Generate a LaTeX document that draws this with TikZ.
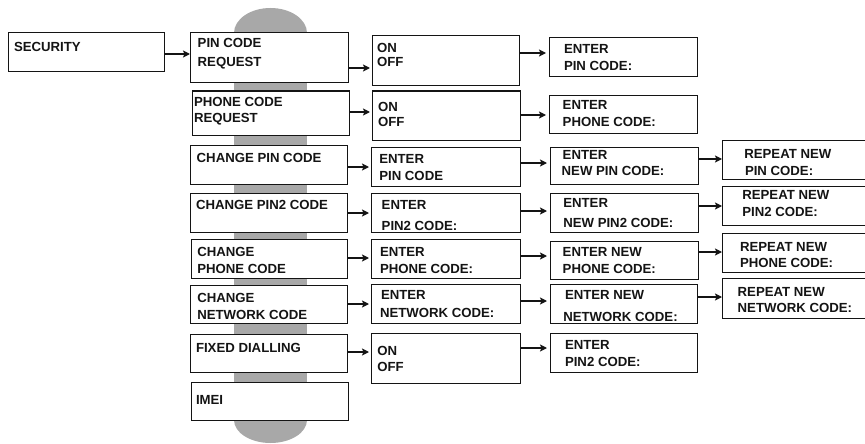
\documentclass[tikz,border=0pt]{standalone}
\usepackage{fontspec}
\setmainfont{Liberation Sans}
\usetikzlibrary{arrows.meta}
\definecolor{pillar}{RGB}{168,168,168}
\definecolor{ink}{RGB}{20,20,20}
\tikzset{
  box/.style={draw=ink,fill=white,line width=1pt,inner sep=0pt,outer sep=0pt,rectangle},
  txt/.style={inner sep=0pt,outer sep=0pt,text=ink,font=\fontsize{13.2}{15}\selectfont\bfseries},
  arr/.style={draw=ink,line width=2pt,-{Stealth[length=7pt,width=7pt,inset=1.5pt]}},
  gapa/.style={shorten >=2pt},
  gapb/.style={shorten >=3pt}
}
\newcommand\bx[5]{\node[box,anchor=north west,minimum width={(#4-#2)*1pt},minimum height={(#5-#3)*1pt}] (#1) at (#2,#3) {};}
\newcommand\tl[4]{\node[txt,anchor=base west] (#1) at (#2,{#3+9.4}) {#4};}
\newcommand\ar[4][]{\draw[arr,#1] (#2.east |- 0,#4) -- (#3.west |- 0,#4);}
\begin{document}
\begin{tikzpicture}[x=1pt,y=-1pt]
\useasboundingbox (0,0) rectangle (865,444);
% grey pillar
\fill[pillar] (270.5,33) ellipse [x radius=36.5,y radius=25];
\fill[pillar] (270.5,420) ellipse [x radius=36.5,y radius=23];
\fill[pillar] (234,33) rectangle (307,420);
% boxes
\bx{sec}{8}{33}{164}{72}
\bx{ca}{190}{33}{348}{83}
\bx{cb}{192}{91}{349}{135}
\bx{cc}{190}{145}{347}{184}
\bx{cd}{190}{193}{347}{232}
\bx{ce}{191}{239}{347}{278}
\bx{cf}{190}{285}{347}{323}
\bx{cg}{190}{334}{347}{372}
\bx{ch}{191}{382}{348}{420}
\bx{da}{372}{36}{519}{86}
\bx{db}{372}{91}{520}{140}
\bx{dc}{371}{147}{520}{186}
\bx{dd}{371}{193}{520}{232}
\bx{de}{371}{239}{520}{278}
\bx{df}{371}{284}{520}{323}
\bx{dg}{371}{333}{520}{383}
\bx{ea}{549}{38}{697}{77}
\bx{eb}{549}{95}{697}{133}
\bx{ec}{550}{147}{698}{184}
\bx{ed}{550}{193}{698}{232}
\bx{ee}{550}{241}{698}{279}
\bx{ef}{550}{284}{697}{323}
\bx{eg}{550}{333}{697}{372}
\bx{fc}{722}{140}{870}{179}
\bx{fd}{722}{186}{870}{225}
\bx{fe}{722}{233}{870}{272}
\bx{ff}{722}{278}{870}{318}
% texts
\tl{tsec}{14}{41.7}{SECURITY}
\tl{tca1}{197.7}{37.7}{PIN CODE}
\tl{tca2}{197.7}{57.3}{REQUEST}
\tl{tcb1}{194}{96.7}{PHONE CODE}
\tl{tcb2}{194}{113.3}{REQUEST}
\tl{tcc1}{196.7}{152.7}{CHANGE PIN CODE}
\tl{tcd1}{196}{200}{CHANGE PIN2 CODE}
\tl{tce1}{197.3}{246.7}{CHANGE}
\tl{tce2}{197.3}{264}{PHONE CODE}
\tl{tcf1}{197.3}{292.7}{CHANGE}
\tl{tcf2}{197.3}{310}{NETWORK CODE}
\tl{tcg1}{196}{343.3}{FIXED DIALLING}
\tl{tch1}{196}{395}{IMEI}
\tl{tda1}{377}{42.7}{ON}
\tl{tda2}{377}{57.3}{OFF}
\tl{tdb1}{378}{101.7}{ON}
\tl{tdb2}{378}{116.7}{OFF}
\tl{tdc1}{379.3}{154.3}{ENTER}
\tl{tdc2}{379.3}{170.7}{PIN CODE}
\tl{tdd1}{381.7}{200}{ENTER}
\tl{tdd2}{381.7}{220.7}{PIN2 CODE:}
\tl{tde1}{380}{246.7}{ENTER}
\tl{tde2}{380}{264}{PHONE CODE:}
\tl{tdf1}{381}{290}{ENTER}
\tl{tdf2}{380}{307.7}{NETWORK CODE:}
\tl{tdg1}{377.3}{346}{ON}
\tl{tdg2}{377.3}{361.7}{OFF}
\tl{tea1}{564}{44}{ENTER}
\tl{tea2}{564}{60.7}{PIN CODE:}
\tl{teb1}{562.7}{100}{ENTER}
\tl{teb2}{562.7}{116.7}{PHONE CODE:}
\tl{tec1}{562.7}{150}{ENTER}
\tl{tec2}{561.7}{166}{NEW PIN CODE:}
\tl{ted1}{563.3}{198.3}{ENTER}
\tl{ted2}{563.3}{218.3}{NEW PIN2 CODE:}
\tl{tee1}{562.7}{247.3}{ENTER NEW}
\tl{tee2}{562.7}{264}{PHONE CODE:}
\tl{tef1}{565}{290}{ENTER NEW}
\tl{tef2}{563.3}{311.7}{NETWORK CODE:}
\tl{teg1}{565}{340}{ENTER}
\tl{teg2}{565}{356.7}{PIN2 CODE:}
\tl{tfc1}{744.3}{149}{REPEAT NEW}
\tl{tfc2}{745}{165.7}{PIN CODE:}
\tl{tfd1}{742.3}{190}{REPEAT NEW}
\tl{tfd2}{742.3}{207.3}{PIN2 CODE:}
\tl{tfe1}{740}{241.7}{REPEAT NEW}
\tl{tfe2}{740}{258.3}{PHONE CODE:}
\tl{tff1}{737.7}{286.7}{REPEAT NEW}
\tl{tff2}{737.7}{303.3}{NETWORK CODE:}
% arrows
\ar{sec}{ca}{54}
\ar[gapa]{ca}{da}{68}
\ar[gapa]{cb}{db}{112}
\ar[gapb]{da}{ea}{53}
\ar[gapb]{db}{eb}{115}
\ar[gapa]{cc}{dc}{167}
\ar[gapb]{dc}{ec}{163}
\ar[gapa]{cd}{dd}{213}
\ar[gapb]{dd}{ed}{211}
\ar[gapa]{ce}{de}{258}
\ar[gapb]{de}{ee}{256}
\ar[gapa]{cf}{df}{304}
\ar[gapb]{df}{ef}{301}
\ar[gapa]{cg}{dg}{352}
\ar[gapb]{dg}{eg}{348}
\ar{ec}{fc}{159}
\ar{ed}{fd}{206}
\ar{ee}{fe}{252}
\ar{ef}{ff}{297}
\end{tikzpicture}
\end{document}
